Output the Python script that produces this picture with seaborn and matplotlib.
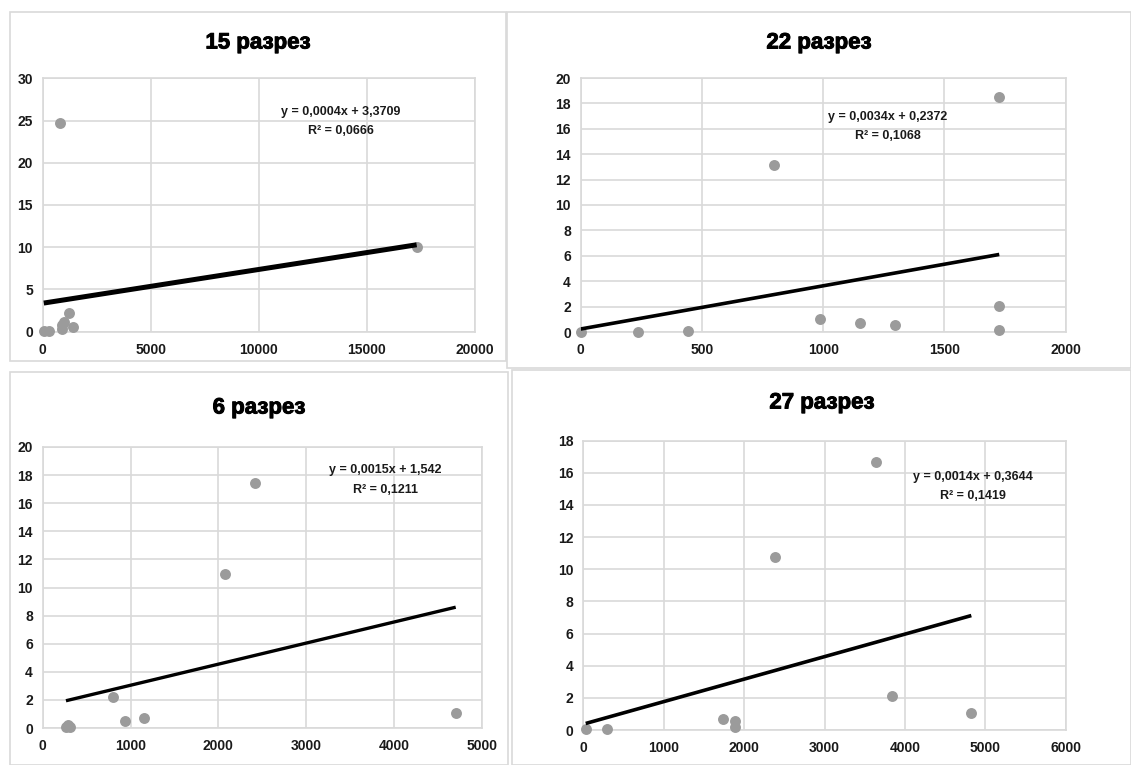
import matplotlib
matplotlib.use("Agg")
import matplotlib.pyplot as plt
import matplotlib.patheffects as pe
from matplotlib.patches import Rectangle
import seaborn as sns

# ---- data -------------------------------------------------------------
titles = ["15 разрез", "22 разрез", "6 разрез", "27 разрез"]

x15 = [50, 300, 880, 900, 1000, 1200, 1400, 800, 17300]
y15 = [0.05, 0.1, 0.3, 0.8, 1.2, 2.2, 0.5, 24.7, 10.0]

x22 = [0, 235, 441, 797, 988, 1152, 1295, 1726, 1726, 1726]
y22 = [0.0, 0.0, 0.05, 13.15, 1.02, 0.71, 0.52, 18.48, 2.07, 0.18]

x6 = [265, 290, 310, 796, 941, 1154, 2073, 2415, 4704]
y6 = [0.1, 0.2, 0.05, 2.23, 0.52, 0.69, 10.96, 17.44, 1.09]

x27 = [30, 299, 1738, 1891, 1891, 2384, 3637, 3840, 4826]
y27 = [0.04, 0.08, 0.7, 0.56, 0.17, 10.78, 16.66, 2.11, 1.08]

slopes = [0.0004, 0.0034, 0.0015, 0.0014]
intercepts = [3.3709, 0.2372, 1.542, 0.3644]
r2_values = [0.0666, 0.1068, 0.1211, 0.1419]
eq_labels = ["y = 0,0004x + 3,3709", "y = 0,0034x + 0,2372",
             "y = 0,0015x + 1,542", "y = 0,0014x + 0,3644"]
r2_labels = ["R² = 0,0666", "R² = 0,1068", "R² = 0,1211", "R² = 0,1419"]

x_limits = [(0, 20000), (0, 2000), (0, 5000), (0, 6000)]
x_steps = [5000, 500, 1000, 1000]
y_limits = [(0, 30), (0, 20), (0, 20), (0, 18)]
y_steps = [5, 2, 2, 2]

# ---- layout (pixels) ---------------------------------------------------
W, H = 1131, 765
sns.set_style("white")
plt.rcParams["font.family"] = ["Liberation Sans", "DejaVu Sans"]

fig = plt.figure(figsize=(W / 100, H / 100), dpi=100)
fig.patch.set_facecolor("white")

GRID = "#d9d9d9"
DOT = "#9b9b9b"
TICK_FONT = ["Liberation Sans Narrow", "Liberation Sans", "DejaVu Sans"]


def px_rect(l, t, r, b):
    return [l / W, 1 - b / H, (r - l) / W, (b - t) / H]


# outer frames of the four chart blocks
frames = [(10, 12, 506, 361), (507, 12, 1131, 368),
          (10, 372, 508, 765), (512, 370, 1131, 765)]
for l, t, r, b in frames:
    fig.add_artist(Rectangle((l / W, 1 - b / H), (r - l) / W, (b - t) / H,
                             transform=fig.transFigure, fill=False,
                             edgecolor=GRID, linewidth=1.2))

plot_boxes = [(42.7, 78.3, 475, 331.7), (580.7, 78, 1065.7, 332),
              (42.7, 447, 481.7, 728), (583.3, 440.7, 1065.7, 730)]
title_pos = [(258, 43), (819, 43), (259, 408), (822, 403)]
eq_pos = [(340.7, 112.3), (887.7, 117.3), (385.7, 470), (972.7, 476.7)]
r2_pos = [(340.7, 130.7), (887.7, 135.7), (385.7, 490), (972.7, 496)]
line_w = [3.6, 2.6, 2.4, 2.6]

series = [(x15, y15), (x22, y22), (x6, y6), (x27, y27)]

for i, (xs, ys) in enumerate(series):
    ax = fig.add_axes(px_rect(*plot_boxes[i]))
    ax.set_facecolor("white")

    # scatter points
    sns.scatterplot(x=xs, y=ys, ax=ax, color=DOT, s=62, linewidth=0,
                    zorder=3, clip_on=False)

    # linear trend line from the stated equation
    x0, x1 = min(xs), max(xs)
    tx = [x0, x1]
    ty = [slopes[i] * v + intercepts[i] for v in tx]
    sns.lineplot(x=tx, y=ty, ax=ax, color="black", linewidth=line_w[i],
                 zorder=4, solid_capstyle="butt")

    ax.set_xlim(*x_limits[i])
    ax.set_ylim(*y_limits[i])
    ax.set_xticks(range(x_limits[i][0], x_limits[i][1] + 1, x_steps[i]))
    ax.set_yticks(range(y_limits[i][0], y_limits[i][1] + 1, y_steps[i]))
    ax.grid(True, color=GRID, linewidth=1.2)
    ax.set_axisbelow(True)
    for sp in ax.spines.values():
        sp.set_color(GRID)
        sp.set_linewidth(1.2)
    ax.tick_params(axis="both", length=0, colors="#1a1a1a")
    ax.tick_params(axis="x", pad=8)
    ax.tick_params(axis="y", pad=7)
    for lab in ax.get_xticklabels() + ax.get_yticklabels():
        lab.set_family(TICK_FONT)
        lab.set_fontweight("bold")
        lab.set_fontsize(10)

    # title and regression caption
    tx_, ty_ = title_pos[i]
    fig.text(tx_ / W, 1 - ty_ / H, titles[i], ha="center", va="center",
             fontsize=16, fontweight="bold", color="black",
             path_effects=[pe.withStroke(linewidth=0.7, foreground="black")])
    ex, ey = eq_pos[i]
    fig.text(ex / W, 1 - ey / H, eq_labels[i], ha="center", va="center",
             fontsize=9, fontweight="bold", color="#1a1a1a",
             family=TICK_FONT)
    rx, ry = r2_pos[i]
    fig.text(rx / W, 1 - ry / H, r2_labels[i], ha="center", va="center",
             fontsize=9, fontweight="bold", color="#1a1a1a",
             family=TICK_FONT)

fig.savefig("out.png", dpi=100, facecolor="white")
